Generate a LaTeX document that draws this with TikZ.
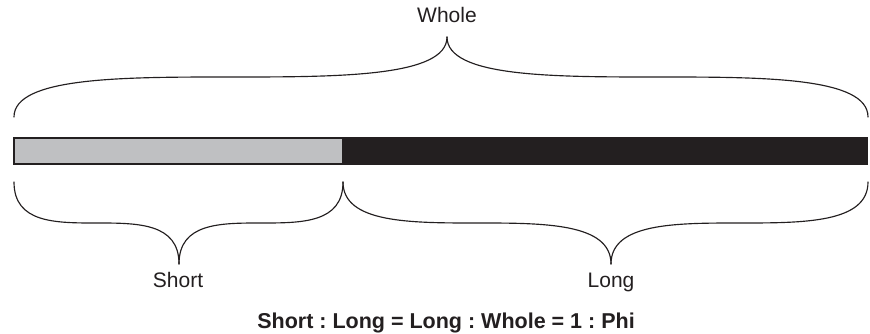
\documentclass[tikz,border=0pt]{standalone}
\usepackage{fontspec}
\setmainfont{Liberation Sans}
\definecolor{ink}{HTML}{231F20}
\definecolor{barg}{HTML}{BFC0C2}
\tikzset{
  lbl/.style={text=ink, anchor=base, inner sep=0pt, font=\fontsize{21}{25}\selectfont},
  blbl/.style={lbl, font=\fontsize{21.5}{25}\selectfont\bfseries},
  brc/.style={draw=ink, line width=1.15pt, line cap=round},
}
% half brace: #1 end x, #2 end y, #3 tip x, #4 tip y
\newcommand\halfbrace[4]{%
  \pgfmathsetmacro\hbm{(#2+#4)/2}%
  \pgfmathsetmacro\hbq{(#1+#3)/2}%
  \pgfmathsetmacro\hba{#1+(#3-#1)/4}%
  \pgfmathsetmacro\hbb{#3-(#3-#1)/4}%
  \draw[brc] (#1,#2) .. controls (#1,\hbm) and (\hba,\hbm) .. (\hbq,\hbm)
     .. controls (\hbb,\hbm) and (#3,\hbm) .. (#3,#4);%
}
\frenchspacing
\begin{document}
\begin{tikzpicture}[x=1pt,y=-1pt]
\useasboundingbox (0,0) rectangle (870,334);
% bar
\coordinate (barL) at (13,137);
\coordinate (barR) at (868,165);
\coordinate (cut) at (343,165);
\fill[ink] (barL) rectangle (barR);
\fill[barg] (15,139) rectangle (342,163);
% braces
\halfbrace{14}{117}{447}{37}
\halfbrace{868}{117}{447}{37}
\halfbrace{14}{182}{179}{264}
\halfbrace{343}{182}{179}{264}
\halfbrace{343}{182}{611}{264}
\halfbrace{868}{182}{611}{264}
% labels
\node[lbl] (whole) at (447,23) {Whole};
\node[lbl] (short) at (178,287) {Short};
\node[lbl] (long) at (611,287) {Long};
\node[blbl] (ratio) at (446,328) {Short : Long = Long : Whole = 1 : Phi};
\end{tikzpicture}
\end{document}
